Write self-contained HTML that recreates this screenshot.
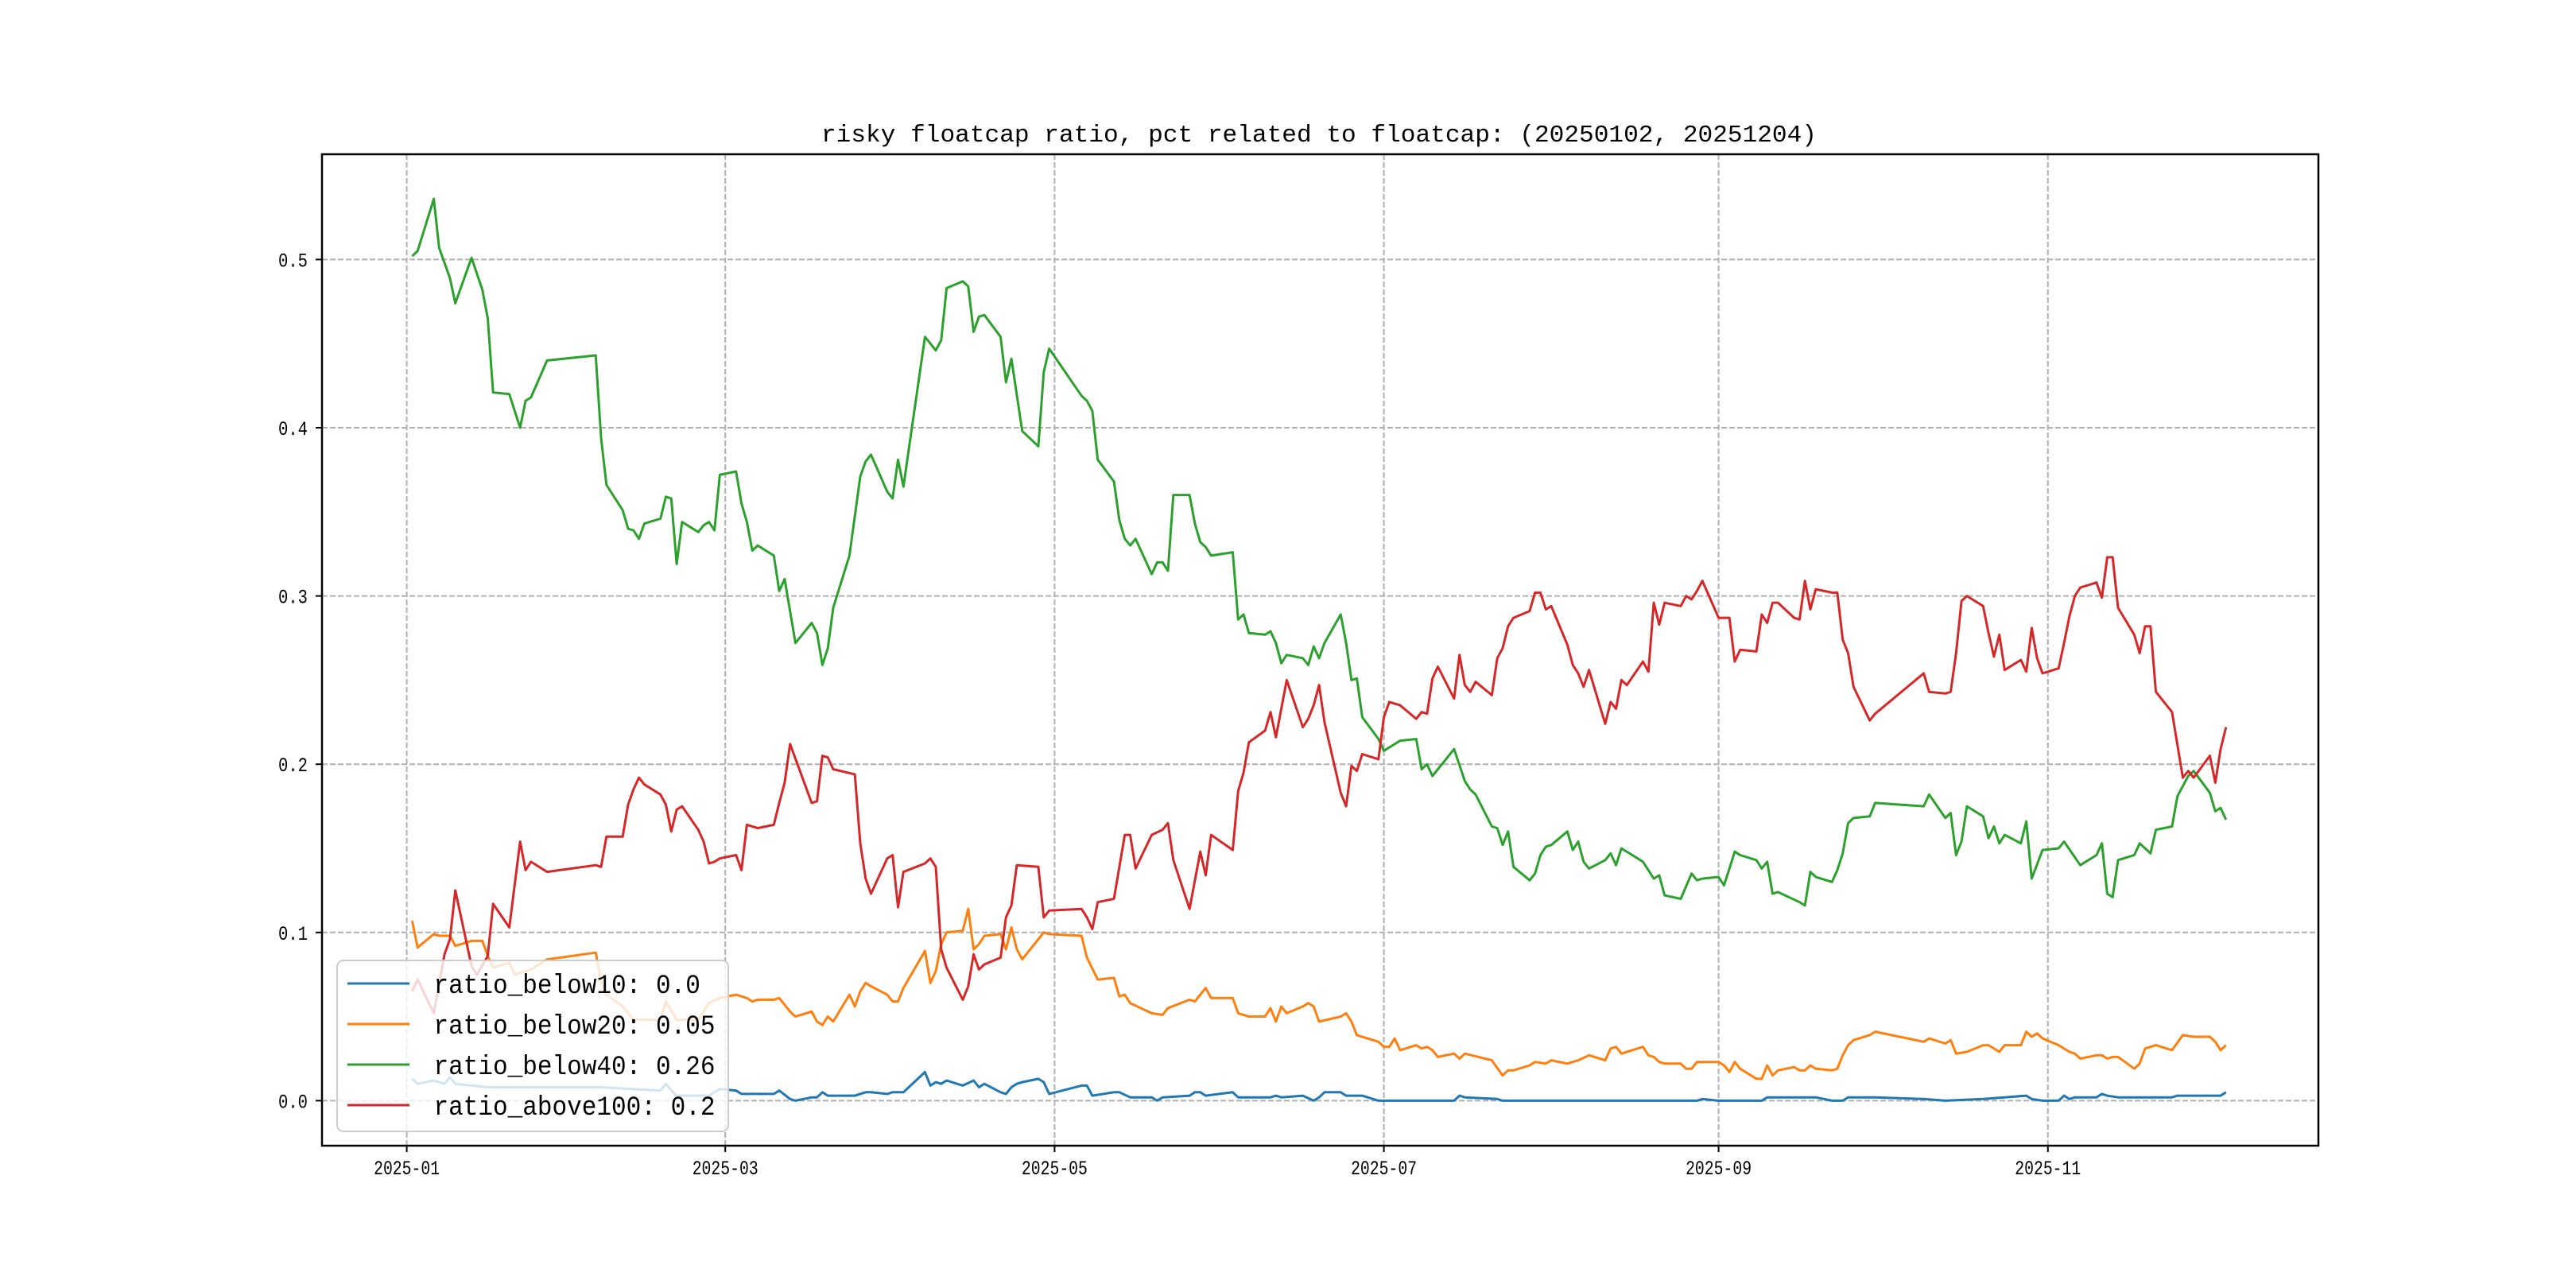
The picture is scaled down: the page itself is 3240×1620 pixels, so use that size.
<!DOCTYPE html>
<html>
<head>
<meta charset="utf-8">
<style>
html,body{margin:0;padding:0;background:#fff;}
svg{display:block;}
text{font-family:"Liberation Mono","Noto Sans CJK SC",monospace;fill:#000;}
</style>
</head>
<body>
<svg id="chart" width="3240" height="1620" viewBox="0 0 3240 1620" xmlns="http://www.w3.org/2000/svg">
<rect x="0" y="0" width="3240" height="1620" fill="#fff"/>
<text x="1033" y="178" font-size="31" textLength="1252" lengthAdjust="spacingAndGlyphs">risky floatcap ratio, pct related to floatcap: (20250102, 20251204)</text>
<g id="grid"></g>
<g id="series"></g>
<g id="axes"></g>
<g id="legend"></g>
</svg>
<script>
const xTickLabels = ["2025-01","2025-03","2025-05","2025-07","2025-09","2025-11"];
const yTickValues = [0.0,0.1,0.2,0.3,0.4,0.5];
const yTickLabels = ["0.0","0.1","0.2","0.3","0.4","0.5"];
const seriesNames = ["ratio_below10: 0.0","ratio_below20: 0.05","ratio_below40: 0.26","ratio_above100: 0.2"];
const seriesColors = ["#1f77b4","#ff7f0e","#2ca02c","#d62728"];

const blueDates = ["01-02","01-03","01-06","01-08","01-09","01-10","01-16","01-21","01-24","02-06","02-17","02-18","02-19","02-20","02-26","02-28","03-03","03-04","03-07","03-10","03-11","03-13","03-14","03-17","03-18","03-19","03-20","03-25","03-27","03-28","03-31","04-01","04-03","04-07","04-08","04-09","04-10","04-11","04-14","04-16","04-17","04-18","04-21","04-22","04-23","04-24","04-25","04-28","04-29","04-30","05-06","05-07","05-08","05-12","05-13","05-15","05-19","05-20","05-21","05-26","05-27","05-28","05-29","06-03","06-04","06-10","06-11","06-12","06-16","06-18","06-19","06-20","06-23","06-24","06-27","06-30","07-01","07-14","07-15","07-16","07-22","07-23","08-28","08-29","09-01","09-09","09-10","09-19","09-22","09-24","09-25","09-30","10-09","10-13","10-20","10-24","10-28","10-29","10-31","11-03","11-04","11-05","11-06","11-10","11-11","11-12","11-14","11-24","11-25","12-03","12-04"];
const blueValues = [0.013,0.010,0.012,0.010,0.014,0.010,0.008,0.008,0.008,0.008,0.006,0.010,0.006,0.003,0.003,0.007,0.006,0.004,0.004,0.004,0.006,0.001,0.000,0.002,0.002,0.005,0.003,0.003,0.005,0.005,0.004,0.005,0.005,0.017,0.009,0.011,0.010,0.012,0.009,0.012,0.008,0.010,0.005,0.004,0.008,0.010,0.011,0.013,0.011,0.004,0.009,0.009,0.003,0.005,0.005,0.002,0.002,0.000,0.002,0.003,0.005,0.005,0.003,0.005,0.002,0.002,0.003,0.002,0.003,0.000,0.002,0.005,0.005,0.003,0.003,0.000,0.000,0.000,0.003,0.002,0.001,0.000,0.000,0.001,0.000,0.000,0.002,0.002,0.000,0.000,0.002,0.002,0.001,0.000,0.001,0.002,0.003,0.001,0.000,0.000,0.003,0.001,0.002,0.002,0.004,0.003,0.002,0.002,0.003,0.003,0.005];

const orangeDates = ["01-02","01-03","01-06","01-07","01-09","01-10","01-13","01-15","01-16","01-17","01-20","01-21","01-24","01-27","02-05","02-06","02-07","02-10","02-12","02-17","02-18","02-20","02-24","02-26","02-28","03-03","03-05","03-06","03-07","03-10","03-11","03-13","03-14","03-17","03-18","03-19","03-20","03-21","03-24","03-25","03-26","03-27","03-28","03-31","04-01","04-02","04-03","04-07","04-08","04-09","04-10","04-11","04-14","04-15","04-16","04-17","04-18","04-21","04-22","04-23","04-24","04-25","04-29","04-30","05-06","05-07","05-09","05-12","05-13","05-14","05-15","05-19","05-21","05-22","05-26","05-27","05-29","05-30","06-03","06-04","06-06","06-09","06-10","06-11","06-12","06-13","06-16","06-17","06-18","06-19","06-23","06-24","06-25","06-26","06-30","07-01","07-02","07-03","07-04","07-07","07-08","07-09","07-10","07-11","07-14","07-15","07-16","07-21","07-23","07-24","07-25","07-28","07-29","07-31","08-01","08-04","08-06","08-08","08-11","08-12","08-13","08-14","08-18","08-19","08-20","08-21","08-22","08-25","08-26","08-27","08-28","09-01","09-02","09-03","09-04","09-05","09-08","09-09","09-10","09-11","09-12","09-15","09-16","09-17","09-18","09-19","09-22","09-23","09-24","09-25","09-26","09-29","09-30","10-09","10-10","10-13","10-14","10-15","10-17","10-20","10-21","10-23","10-24","10-27","10-28","10-29","10-30","10-31","11-03","11-05","11-06","11-07","11-10","11-11","11-12","11-13","11-14","11-17","11-18","11-19","11-21","11-24","11-26","11-28","12-01","12-02","12-03","12-04"];
const orangeValues = [0.107,0.091,0.099,0.098,0.098,0.092,0.095,0.095,0.086,0.079,0.082,0.075,0.078,0.084,0.088,0.071,0.063,0.056,0.048,0.048,0.059,0.048,0.048,0.058,0.061,0.063,0.061,0.059,0.060,0.060,0.061,0.053,0.050,0.053,0.047,0.045,0.050,0.047,0.063,0.056,0.065,0.070,0.068,0.063,0.059,0.059,0.067,0.089,0.070,0.077,0.093,0.100,0.101,0.114,0.090,0.093,0.098,0.099,0.090,0.103,0.090,0.084,0.100,0.099,0.098,0.085,0.072,0.073,0.062,0.063,0.058,0.052,0.051,0.055,0.060,0.059,0.067,0.061,0.061,0.052,0.050,0.050,0.055,0.047,0.056,0.052,0.056,0.058,0.056,0.047,0.050,0.052,0.047,0.039,0.035,0.032,0.032,0.037,0.030,0.033,0.031,0.032,0.030,0.026,0.028,0.025,0.028,0.024,0.015,0.018,0.018,0.021,0.023,0.022,0.024,0.022,0.024,0.027,0.024,0.031,0.032,0.028,0.032,0.027,0.026,0.023,0.022,0.022,0.019,0.019,0.023,0.023,0.021,0.017,0.023,0.019,0.013,0.013,0.021,0.015,0.018,0.020,0.018,0.018,0.021,0.019,0.018,0.019,0.027,0.033,0.036,0.039,0.041,0.035,0.037,0.034,0.036,0.028,0.029,0.033,0.033,0.029,0.033,0.033,0.041,0.038,0.040,0.037,0.033,0.029,0.028,0.025,0.027,0.027,0.025,0.026,0.026,0.019,0.022,0.031,0.033,0.030,0.039,0.038,0.038,0.035,0.030,0.033];

const greenDates = ["01-02","01-03","01-06","01-07","01-08","01-09","01-10","01-13","01-15","01-16","01-17","01-20","01-22","01-23","01-24","01-27","02-05","02-06","02-07","02-10","02-11","02-12","02-13","02-14","02-17","02-18","02-19","02-20","02-21","02-24","02-25","02-26","02-27","02-28","03-03","03-04","03-05","03-06","03-07","03-10","03-11","03-12","03-14","03-17","03-18","03-19","03-20","03-21","03-24","03-26","03-27","03-28","03-31","04-01","04-02","04-03","04-07","04-09","04-10","04-11","04-14","04-15","04-16","04-17","04-18","04-21","04-22","04-23","04-25","04-28","04-29","04-30","05-06","05-07","05-08","05-09","05-12","05-13","05-14","05-15","05-16","05-19","05-20","05-21","05-22","05-23","05-26","05-27","05-28","05-29","05-30","06-03","06-04","06-05","06-06","06-09","06-10","06-11","06-12","06-13","06-16","06-17","06-18","06-19","06-20","06-23","06-24","06-25","06-26","06-27","06-30","07-01","07-04","07-07","07-08","07-09","07-10","07-14","07-16","07-17","07-18","07-21","07-22","07-23","07-24","07-25","07-28","07-29","07-30","07-31","08-01","08-04","08-05","08-06","08-07","08-08","08-11","08-12","08-13","08-14","08-18","08-20","08-21","08-22","08-25","08-27","08-28","08-29","09-01","09-02","09-03","09-04","09-05","09-08","09-09","09-10","09-11","09-12","09-16","09-17","09-18","09-19","09-22","09-23","09-24","09-25","09-26","09-29","09-30","10-09","10-10","10-13","10-14","10-15","10-16","10-17","10-20","10-21","10-22","10-23","10-24","10-27","10-28","10-29","10-31","11-03","11-04","11-07","11-10","11-11","11-12","11-13","11-14","11-17","11-18","11-20","11-21","11-24","11-25","11-26","11-27","11-28","12-01","12-02","12-03","12-04"];
const greenValues = [0.502,0.505,0.536,0.507,0.498,0.489,0.474,0.501,0.482,0.465,0.421,0.420,0.400,0.416,0.418,0.440,0.443,0.394,0.366,0.351,0.340,0.339,0.334,0.343,0.346,0.359,0.358,0.319,0.344,0.338,0.342,0.344,0.339,0.372,0.374,0.355,0.344,0.327,0.330,0.324,0.303,0.310,0.272,0.284,0.278,0.259,0.269,0.293,0.324,0.371,0.380,0.384,0.362,0.358,0.381,0.365,0.454,0.446,0.452,0.483,0.487,0.484,0.457,0.466,0.467,0.454,0.427,0.441,0.398,0.389,0.433,0.447,0.419,0.416,0.410,0.381,0.368,0.345,0.334,0.330,0.334,0.313,0.320,0.320,0.315,0.360,0.360,0.343,0.332,0.329,0.324,0.326,0.286,0.289,0.278,0.277,0.279,0.272,0.260,0.265,0.263,0.259,0.270,0.263,0.272,0.289,0.272,0.250,0.251,0.228,0.215,0.208,0.214,0.215,0.197,0.200,0.193,0.209,0.190,0.185,0.182,0.163,0.162,0.152,0.160,0.139,0.131,0.135,0.146,0.151,0.152,0.160,0.149,0.154,0.142,0.138,0.143,0.147,0.140,0.150,0.142,0.132,0.134,0.122,0.120,0.135,0.131,0.132,0.133,0.128,0.138,0.148,0.146,0.143,0.138,0.142,0.123,0.124,0.118,0.116,0.136,0.133,0.130,0.137,0.147,0.165,0.168,0.169,0.177,0.175,0.182,0.168,0.171,0.146,0.154,0.175,0.169,0.156,0.163,0.153,0.158,0.153,0.166,0.132,0.149,0.150,0.154,0.140,0.146,0.153,0.123,0.121,0.143,0.146,0.153,0.147,0.161,0.163,0.181,0.187,0.193,0.196,0.183,0.172,0.174,0.167];

const redDates = ["01-02","01-03","01-06","01-08","01-09","01-10","01-13","01-14","01-16","01-17","01-20","01-22","01-23","01-24","01-27","02-05","02-06","02-07","02-10","02-11","02-12","02-13","02-14","02-17","02-18","02-19","02-20","02-21","02-24","02-25","02-26","02-27","02-28","03-03","03-04","03-05","03-07","03-10","03-11","03-12","03-13","03-17","03-18","03-19","03-20","03-21","03-25","03-26","03-27","03-28","03-31","04-01","04-02","04-03","04-07","04-08","04-09","04-10","04-11","04-14","04-15","04-16","04-17","04-18","04-21","04-22","04-23","04-24","04-28","04-29","04-30","05-06","05-07","05-08","05-09","05-12","05-14","05-15","05-16","05-19","05-21","05-22","05-23","05-26","05-28","05-29","05-30","06-03","06-04","06-05","06-06","06-09","06-10","06-11","06-13","06-16","06-17","06-18","06-19","06-20","06-23","06-24","06-25","06-26","06-27","06-30","07-01","07-02","07-04","07-07","07-08","07-09","07-10","07-11","07-14","07-15","07-16","07-17","07-18","07-21","07-22","07-23","07-24","07-25","07-28","07-29","07-30","07-31","08-01","08-04","08-05","08-06","08-07","08-08","08-11","08-12","08-13","08-14","08-15","08-18","08-19","08-20","08-21","08-22","08-25","08-26","08-27","08-28","08-29","09-01","09-03","09-04","09-05","09-08","09-09","09-10","09-11","09-12","09-15","09-16","09-17","09-18","09-19","09-22","09-23","09-24","09-25","09-26","09-29","09-30","10-09","10-10","10-13","10-14","10-15","10-16","10-17","10-20","10-21","10-22","10-23","10-24","10-27","10-28","10-29","10-30","10-31","11-03","11-04","11-05","11-06","11-07","11-10","11-11","11-12","11-13","11-14","11-17","11-18","11-19","11-20","11-21","11-24","11-26","11-27","11-28","12-01","12-02","12-03","12-04"];
const redValues = [0.065,0.072,0.052,0.087,0.096,0.125,0.080,0.075,0.086,0.117,0.103,0.154,0.137,0.142,0.136,0.140,0.139,0.157,0.157,0.176,0.185,0.192,0.188,0.182,0.176,0.160,0.173,0.175,0.161,0.154,0.141,0.142,0.144,0.146,0.137,0.164,0.162,0.164,0.177,0.189,0.212,0.177,0.178,0.205,0.204,0.197,0.194,0.153,0.132,0.123,0.144,0.146,0.115,0.136,0.141,0.144,0.139,0.090,0.079,0.060,0.068,0.087,0.078,0.081,0.085,0.109,0.116,0.140,0.139,0.109,0.113,0.114,0.109,0.102,0.118,0.120,0.158,0.158,0.138,0.158,0.161,0.165,0.143,0.114,0.148,0.134,0.158,0.149,0.184,0.195,0.213,0.220,0.231,0.216,0.250,0.222,0.227,0.235,0.247,0.225,0.183,0.175,0.199,0.196,0.206,0.203,0.228,0.237,0.235,0.227,0.231,0.230,0.251,0.258,0.239,0.265,0.247,0.243,0.249,0.241,0.263,0.269,0.282,0.287,0.291,0.302,0.302,0.292,0.294,0.271,0.259,0.254,0.246,0.256,0.224,0.237,0.233,0.250,0.247,0.261,0.255,0.296,0.283,0.296,0.294,0.300,0.298,0.303,0.309,0.287,0.287,0.261,0.268,0.267,0.289,0.284,0.296,0.296,0.287,0.286,0.309,0.292,0.304,0.302,0.302,0.274,0.266,0.246,0.226,0.230,0.254,0.243,0.242,0.243,0.266,0.297,0.300,0.294,0.278,0.264,0.277,0.256,0.262,0.255,0.281,0.263,0.254,0.257,0.272,0.288,0.300,0.305,0.308,0.299,0.323,0.323,0.293,0.277,0.266,0.282,0.282,0.243,0.231,0.192,0.196,0.192,0.205,0.189,0.209,0.222];

const NS = "http://www.w3.org/2000/svg";
const PL = 405, PR = 2916, PT = 194, PB = 1441;
const X0 = 511.6, PX_PER_DAY = 6.79;
const Y0 = 1384.4, PX_PER_UNIT = 2116;
function dayOf(s){ const p = s.split("-"); return (Date.UTC(2025, +p[0]-1, +p[1]) - Date.UTC(2025,0,1)) / 86400000; }
function xScale(s){ return X0 + dayOf(s) * PX_PER_DAY; }
function yScale(v){ return Y0 - v * PX_PER_UNIT; }
function mk(tag, attrs, parent){ const e = document.createElementNS(NS, tag); for (const k in attrs) e.setAttribute(k, attrs[k]); parent.appendChild(e); return e; }

const grid = document.getElementById("grid");
const axes = document.getElementById("axes");
const series = document.getElementById("series");
const legend = document.getElementById("legend");

xTickLabels.forEach(function(lbl){
  const x = xScale(lbl.slice(5) + "-01");
  const g = mk("line", {x1:x, x2:x, y1:PT, y2:PB, stroke:"#b0b0b0", "stroke-width":2, "stroke-dasharray":"7,3"}, grid);
  
  
  const t = mk("line", {x1:x, x2:x, y1:PB, y2:PB+8, stroke:"#000", "stroke-width":2}, axes);
  
  
  const tx = mk("text", {x:x-41.5, y:1477, "font-size":25, textLength:83, lengthAdjust:"spacingAndGlyphs"}, axes);
  tx.textContent = lbl;
  
  
});
yTickValues.forEach(function(v, i){
  const y = yScale(v);
  const g = mk("line", {x1:PL, x2:PR, y1:y, y2:y, stroke:"#b0b0b0", "stroke-width":2, "stroke-dasharray":"7,3"}, grid);
  
  
  const t = mk("line", {x1:PL-8, x2:PL, y1:y, y2:y, stroke:"#000", "stroke-width":2}, axes);
  
  
  const tx = mk("text", {x:350, y:y+9, "font-size":25, textLength:37, lengthAdjust:"spacingAndGlyphs"}, axes);
  tx.textContent = yTickLabels[i];
  
  
});
const frame = mk("rect", {x:PL, y:PT, width:PR-PL, height:PB-PT, fill:"none", stroke:"#000", "stroke-width":2.5}, axes);



const allDates = [blueDates, orangeDates, greenDates, redDates];
const allValues = [blueValues, orangeValues, greenValues, redValues];
const seriesKeys = ["ratio-below10-line","ratio-below20-line","ratio-below40-line","ratio-above100-line"];
allDates.forEach(function(dates, si){
  const vals = allValues[si];
  const pts = dates.map(function(d, i){ return xScale(d).toFixed(1) + "," + yScale(vals[i]).toFixed(1); }).join(" ");
  const pl = mk("polyline", {points:pts, fill:"none", stroke:seriesColors[si], "stroke-width":3, "stroke-linejoin":"round"}, series);
  
  
});

const box = mk("rect", {x:424, y:1208, width:492, height:215, rx:8, fill:"rgba(255,255,255,0.8)", stroke:"#cccccc", "stroke-width":2}, legend);


seriesNames.forEach(function(name, i){
  const cy = 1237 + i * 51;
  const ln = mk("line", {x1:437, x2:515, y1:cy, y2:cy, stroke:seriesColors[i], "stroke-width":3}, legend);
  
  
  const tx = mk("text", {x:545.5, y:cy+12, "font-size":34, textLength:name.length*18.63, lengthAdjust:"spacingAndGlyphs"}, legend);
  tx.textContent = name;
  
  
});
</script>
</body>
</html>
